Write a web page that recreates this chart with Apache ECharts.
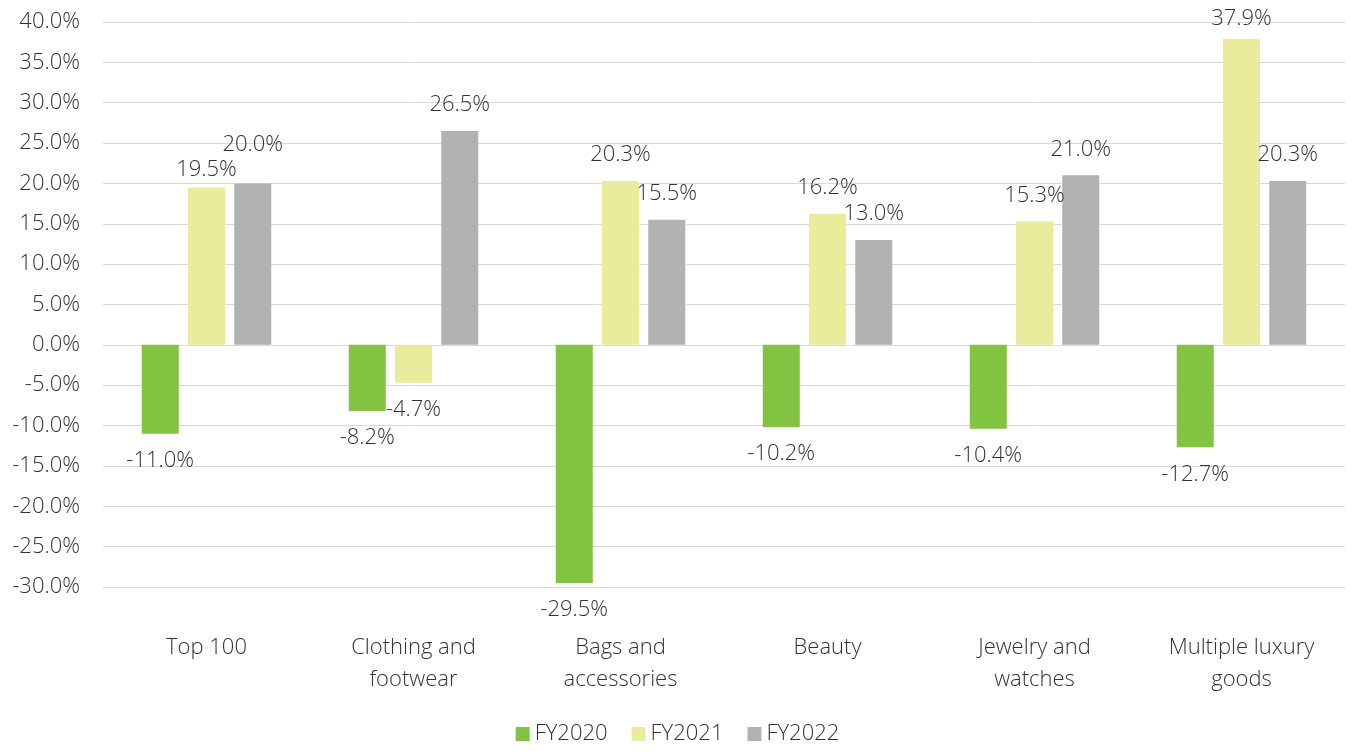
<!DOCTYPE html>
<html>
<head>
<meta charset="utf-8">
<script src="https://cdn.jsdelivr.net/npm/echarts@6/dist/echarts.min.js"></script>
<style>
  html, body { margin: 0; padding: 0; background: #fff; }
  #chart { width: 1355px; height: 751px; }
</style>
</head>
<body>
<div id="chart"></div>
<script>
// Year-over-year growth by product segment
const categories = ['Top 100', 'Clothing and\nfootwear', 'Bags and\naccessories', 'Beauty', 'Jewelry and\nwatches', 'Multiple luxury\ngoods'];
const seriesNames = ['FY2020', 'FY2021', 'FY2022'];
const fy2020 = [-11.0, -8.2, -29.5, -10.2, -10.4, -12.7];
const fy2021 = [19.5, -4.7, 20.3, 16.2, 15.3, 37.9];
const fy2022 = [20.0, 26.5, 15.5, 13.0, 21.0, 20.3];
const colors = ['#82c341', '#e9ed9b', '#b1b3b3'];
const allSeries = [fy2020, fy2021, fy2022];

const FONT = '"Open Sans", "Noto Sans", sans-serif';
const TEXT = '#333333';
const FS = 22;

function withLabels(values) {
  return values.map(v => ({
    value: v,
    label: {
      position: v < 0 ? 'bottom' : 'top',
      distance: v < 0 ? 16 : 15
    }
  }));
}

// Keep neighbouring value labels apart when two adjacent positive bars
// have nearly the same height, and keep labels inside the canvas.
function labelNudge(seriesIdx) {
  return params => {
    const i = params.dataIndex;
    const a = fy2021[i], b = fy2022[i];
    let dy = 0;
    if (a > 0 && b > 0 && Math.abs(a - b) < 2) {
      if (seriesIdx === 2) dy = -13;
      if (seriesIdx === 1) dy = 8;
    }
    const top = params.labelRect.y + dy;
    if (top < 8) dy += 8 - top;
    return { dy: dy };
  };
}

const chart = echarts.init(document.getElementById('chart'));
chart.setOption({
  animation: false,
  color: colors,
  grid: { left: 103, right: 10, top: 22, bottom: 164, containLabel: false },
  legend: {
    bottom: 1,
    left: 'center',
    itemWidth: 14,
    itemHeight: 14,
    itemGap: 24,
    icon: 'rect',
    textStyle: { fontFamily: FONT, fontSize: FS, color: TEXT, fontWeight: 300 },
    data: seriesNames
  },
  xAxis: {
    type: 'category',
    data: categories,
    axisLine: { show: false, onZero: false },
    axisTick: { show: false },
    axisLabel: {
      interval: 0,
      margin: 45,
      fontFamily: FONT,
      fontSize: FS,
      fontWeight: 300,
      lineHeight: 32,
      color: TEXT
    }
  },
  yAxis: {
    type: 'value',
    min: -30,
    max: 40,
    interval: 5,
    axisLine: { show: false },
    axisTick: { show: false },
    splitLine: { lineStyle: { color: '#d9d9d9', width: 1 } },
    axisLabel: {
      margin: 23,
      fontFamily: FONT,
      fontSize: FS,
      fontWeight: 300,
      color: TEXT,
      formatter: v => v.toFixed(1) + '%'
    }
  },
  series: allSeries.map((vals, i) => ({
    name: seriesNames[i],
    type: 'bar',
    barWidth: 37,
    barGap: '25%',
    data: withLabels(vals),
    labelLayout: labelNudge(i),
    label: {
      show: true,
      fontFamily: FONT,
      fontSize: FS,
      fontWeight: 300,
      color: TEXT,
      formatter: p => p.value.toFixed(1) + '%'
    }
  }))
});
</script>
</body>
</html>
